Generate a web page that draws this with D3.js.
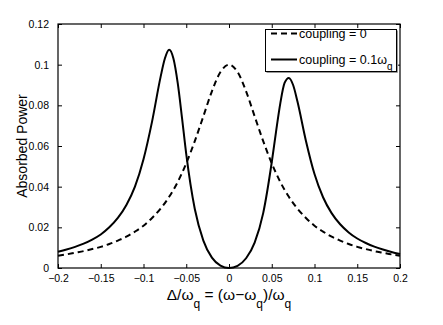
<!DOCTYPE html>
<html>
<head>
<meta charset="utf-8">
<title>Absorbed Power vs detuning</title>
<script src="https://cdn.jsdelivr.net/npm/d3@7"></script>
<style>
  body { margin: 0; background: #fff; }
  svg text { font-family: "Liberation Sans", Arial, sans-serif; fill: #000; }
  .tick-label { font-size: 10.5px; }
  .legend-text { font-size: 12.5px; }
</style>
</head>
<body>
<div id="chart"></div>
<script>
// ---- data ----
var xTicks = [-0.2, -0.15, -0.1, -0.05, 0, 0.05, 0.1, 0.15, 0.2];
var xTickLabels = ["\u22120.2", "\u22120.15", "\u22120.1", "\u22120.05", "0", "0.05", "0.1", "0.15", "0.2"];
var yTicks = [0, 0.02, 0.04, 0.06, 0.08, 0.1, 0.12];
var yTickLabels = ["0", "0.02", "0.04", "0.06", "0.08", "0.1", "0.12"];

// coupling = 0 (dashed)
var detuningDashed = [-0.2, -0.19, -0.18, -0.17, -0.16, -0.15, -0.14, -0.13, -0.12, -0.11, -0.1,
  -0.09, -0.08, -0.07, -0.06, -0.05, -0.04, -0.03, -0.02, -0.01, 0,
  0.01, 0.02, 0.03, 0.04, 0.05, 0.06, 0.07, 0.08, 0.09, 0.1,
  0.11, 0.12, 0.13, 0.14, 0.15, 0.16, 0.17, 0.18, 0.19, 0.2];
var powerDashed = [0.0060, 0.0067, 0.0075, 0.0083, 0.0093, 0.0104, 0.0118, 0.0135, 0.0154, 0.0179, 0.0208,
  0.0246, 0.0292, 0.0350, 0.0423, 0.0515, 0.0624, 0.0746, 0.0869, 0.0964, 0.1000,
  0.0964, 0.0869, 0.0746, 0.0624, 0.0515, 0.0423, 0.0350, 0.0292, 0.0246, 0.0208,
  0.0179, 0.0154, 0.0135, 0.0118, 0.0104, 0.0093, 0.0083, 0.0075, 0.0067, 0.0060];

// coupling = 0.1 w_q (solid)
var detuningSolid = [-0.2, -0.19, -0.18, -0.17, -0.16, -0.15, -0.14, -0.13, -0.12, -0.11, -0.1,
  -0.09, -0.08, -0.075, -0.07, -0.065, -0.06, -0.055, -0.05, -0.04, -0.03, -0.02, -0.01, 0,
  0.01, 0.02, 0.03, 0.04, 0.05, 0.055, 0.06, 0.065, 0.07, 0.075, 0.08, 0.09, 0.1,
  0.11, 0.12, 0.13, 0.14, 0.15, 0.16, 0.17, 0.18, 0.19, 0.2];
var powerSolid = [0.0080, 0.0091, 0.0104, 0.0120, 0.0140, 0.0165, 0.0200, 0.0246, 0.0310, 0.0400, 0.0535,
  0.0720, 0.0940, 0.1030, 0.1073, 0.1030, 0.0910, 0.0740, 0.0560, 0.0290, 0.0135, 0.0051, 0.0012, 0.0000,
  0.0011, 0.0048, 0.0125, 0.0270, 0.0520, 0.0670, 0.0810, 0.0910, 0.0935, 0.0900, 0.0820, 0.0625, 0.0462,
  0.0348, 0.0270, 0.0215, 0.0175, 0.0145, 0.0123, 0.0105, 0.0091, 0.0079, 0.0069];

var legendLabels = ["coupling = 0", "coupling = 0.1\u03c9"];

// ---- layout ----
var W = 443, H = 325;
var margin = {top: 24, right: 43, bottom: 57, left: 58};
var width = W - margin.left - margin.right,
    height = H - margin.top - margin.bottom;

var svg = d3.select("#chart").append("svg")
    .attr("width", W)
    .attr("height", H);

var g = svg.append("g")
    .attr("transform", "translate(" + margin.left + "," + margin.top + ")");

var x = d3.scaleLinear().domain([-0.2, 0.2]).range([0, width]);
var y = d3.scaleLinear().domain([0, 0.12]).range([height, 0]);

// axes: ticks point inward, mirrored on top/right
var tickLen = 4;
g.append("g")
    .attr("transform", "translate(0," + height + ")")
    .call(d3.axisBottom(x).tickValues(xTicks).tickSizeInner(-tickLen).tickSizeOuter(0)
      .tickPadding(7).tickFormat(function(d, i) { return xTickLabels[i]; }))
    .call(function(a) { a.selectAll("text").attr("class", "tick-label").attr("font-family", null).attr("font-size", null); });

g.append("g")
    .call(d3.axisTop(x).tickValues(xTicks).tickSizeInner(-tickLen).tickSizeOuter(0).tickFormat(""));

g.append("g")
    .call(d3.axisLeft(y).tickValues(yTicks).tickSizeInner(-tickLen).tickSizeOuter(0)
      .tickPadding(9).tickFormat(function(d, i) { return yTickLabels[i]; }))
    .call(function(a) { a.selectAll("text").attr("class", "tick-label").attr("font-family", null).attr("font-size", null); });

g.append("g")
    .attr("transform", "translate(" + width + ",0)")
    .call(d3.axisRight(y).tickValues(yTicks).tickSizeInner(-tickLen).tickSizeOuter(0).tickFormat(""));

g.selectAll(".domain").remove();
g.selectAll(".tick line").attr("stroke", "#000");

// box
g.append("rect")
    .attr("x", 0).attr("y", 0)
    .attr("width", width).attr("height", height)
    .attr("fill", "none")
    .attr("stroke", "#000")
    .attr("stroke-width", 1.2);

// curves
var line = d3.line()
    .x(function(d) { return x(d[0]); })
    .y(function(d) { return y(d[1]); })
    .curve(d3.curveMonotoneX);

g.append("path")
    .datum(d3.zip(detuningDashed, powerDashed))
    .attr("d", line)
    .attr("fill", "none")
    .attr("stroke", "#000")
    .attr("stroke-width", 2)
    .attr("stroke-dasharray", "6,4");

g.append("path")
    .datum(d3.zip(detuningSolid, powerSolid))
    .attr("d", line)
    .attr("fill", "none")
    .attr("stroke", "#000")
    .attr("stroke-width", 2);

// legend
var legend = svg.append("g").attr("transform", "translate(265,29)");
legend.append("rect")
    .attr("x", 0.5).attr("y", 0.5)
    .attr("width", 131).attr("height", 42)
    .attr("fill", "#fff")
    .attr("stroke", "#000");
legend.append("path")
    .attr("d", "M1.5,43.5H132.5V1.5")
    .attr("fill", "none")
    .attr("stroke", "#999")
    .attr("stroke-width", 1);

var styles = ["6,4", null];
legendLabels.forEach(function(lbl, i) {
  var ly = 4.5 + i * 26;
  legend.append("line")
      .attr("x1", 6).attr("x2", 32)
      .attr("y1", ly).attr("y2", ly)
      .attr("stroke", "#000")
      .attr("stroke-width", 2)
      .attr("stroke-dasharray", styles[i]);
  var t = legend.append("text")
      .attr("class", "legend-text")
      .attr("x", 34)
      .attr("y", ly + 4.5)
      .text(lbl);
  if (i === 1) {
    t.append("tspan").attr("dy", 6).attr("font-size", 10).text("q");
  }
});

// y label
svg.append("text")
    .attr("transform", "translate(27," + (margin.top + height / 2) + ") rotate(-90)")
    .attr("text-anchor", "middle")
    .attr("font-size", 14)
    .text("Absorbed Power");

// x label: Δ/ω_q = (ω−ω_q)/ω_q
var xl = svg.append("text")
    .attr("x", margin.left + width / 2)
    .attr("y", 300)
    .attr("text-anchor", "middle")
    .attr("font-size", 15.5);
xl.append("tspan").text("\u0394/\u03c9");
xl.append("tspan").attr("dy", 8).attr("font-size", 12).text("q");
xl.append("tspan").attr("dy", -8).text(" = (\u03c9\u2212\u03c9");
xl.append("tspan").attr("dy", 8).attr("font-size", 12).text("q");
xl.append("tspan").attr("dy", -8).text(")/\u03c9");
xl.append("tspan").attr("dy", 8).attr("font-size", 12).text("q");
</script>
</body>
</html>
